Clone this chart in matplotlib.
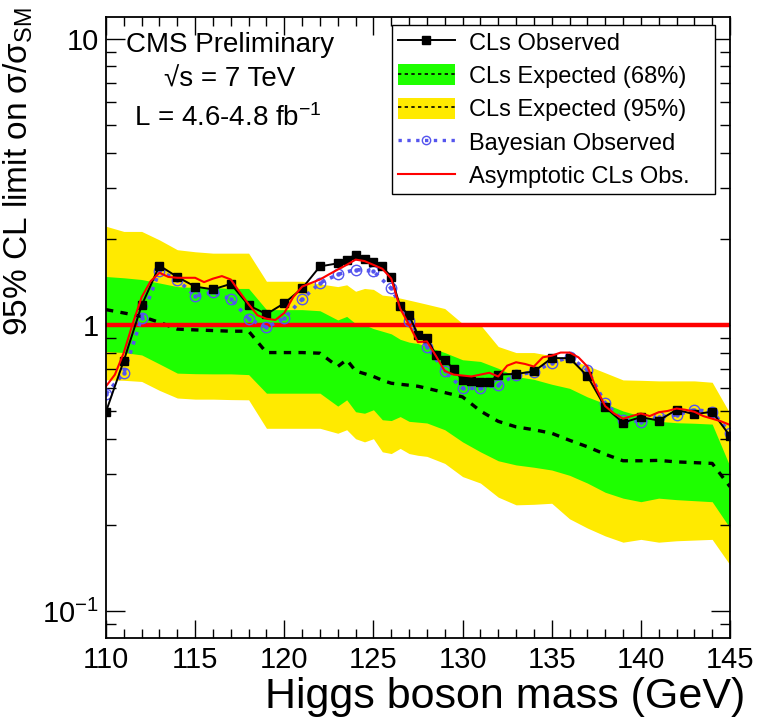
import matplotlib.pyplot as plt
from matplotlib.lines import Line2D
from matplotlib.patches import Patch
from matplotlib.ticker import FixedLocator, LogLocator, NullFormatter, MultipleLocator

plt.rcParams['font.family'] = ['Liberation Sans', 'DejaVu Sans']
plt.rcParams['mathtext.fontset'] = 'custom'
plt.rcParams['mathtext.rm'] = 'Liberation Sans'
plt.rcParams['mathtext.it'] = 'Liberation Sans:italic'
plt.rcParams['mathtext.sf'] = 'Liberation Sans'

# expected limit bands (median, 68%, 95%)
band_mass = [110, 111, 112, 113, 114, 115, 116, 117, 118, 119, 120, 121, 122, 123,
             123.5, 124, 124.5, 125, 125.5, 126, 126.5, 127, 127.5, 128, 129, 130,
             131, 132, 133, 134, 135, 136, 137, 138, 139, 140, 141, 142, 143, 144, 145]
exp_95_hi = [2.21, 2.12, 2.12, 1.98, 1.83, 1.80, 1.78, 1.78, 1.78, 1.42, 1.42, 1.42, 1.39, 1.36,
             1.38, 1.31, 1.34, 1.33, 1.27, 1.26, 1.24, 1.22, 1.20, 1.18, 1.14, 1.01,
             1.00, 0.84, 0.80, 0.80, 0.78, 0.755, 0.72, 0.68, 0.642, 0.64, 0.637, 0.637, 0.637, 0.63, 0.49]
exp_68_hi = [1.475, 1.46, 1.44, 1.40, 1.36, 1.35, 1.35, 1.34, 1.34, 1.13, 1.13, 1.13, 1.12, 1.04,
             1.07, 1.01, 1.00, 0.97, 0.95, 0.93, 0.89, 0.87, 0.86, 0.84, 0.80, 0.755,
             0.745, 0.705, 0.66, 0.645, 0.62, 0.60, 0.56, 0.53, 0.50, 0.48, 0.46, 0.455, 0.453, 0.45, 0.32]
exp_median = [1.13, 1.10, 1.07, 1.02, 0.966, 0.96, 0.955, 0.95, 0.95, 0.80, 0.80, 0.80, 0.796, 0.715,
              0.755, 0.69, 0.675, 0.66, 0.64, 0.625, 0.62, 0.615, 0.61, 0.60, 0.58, 0.56,
              0.50, 0.46, 0.44, 0.43, 0.418, 0.395, 0.375, 0.353, 0.335, 0.335, 0.336, 0.332, 0.33, 0.328, 0.272]
exp_68_lo = [0.807, 0.80, 0.785, 0.73, 0.678, 0.675, 0.674, 0.674, 0.67, 0.577, 0.577, 0.577, 0.577, 0.52,
             0.547, 0.497, 0.491, 0.505, 0.466, 0.463, 0.478, 0.46, 0.457, 0.454, 0.43, 0.39,
             0.36, 0.335, 0.324, 0.318, 0.311, 0.298, 0.28, 0.26, 0.248, 0.241, 0.248, 0.245, 0.243, 0.241, 0.195]
exp_95_lo = [0.642, 0.64, 0.634, 0.59, 0.555, 0.55, 0.55, 0.548, 0.547, 0.435, 0.435, 0.435, 0.435, 0.418,
             0.43, 0.40, 0.39, 0.40, 0.36, 0.355, 0.37, 0.355, 0.35, 0.347, 0.328, 0.295,
             0.28, 0.25, 0.235, 0.236, 0.238, 0.21, 0.195, 0.183, 0.174, 0.178, 0.174, 0.176, 0.177, 0.178, 0.145]

# observed CLs limit
obs_mass = [110, 111, 112, 113, 114, 115, 116, 117, 118, 119, 120, 121, 122, 123, 123.5,
            124, 124.5, 125, 125.5, 126, 126.5, 127, 127.5, 128, 128.5, 129, 129.5, 130,
            130.5, 131, 131.5, 132, 133, 134, 135, 136, 137, 138, 139, 140, 141, 142, 143, 144, 145]
obs_cls = [0.497, 0.75, 1.17, 1.61, 1.47, 1.36, 1.33, 1.39, 1.17, 1.09, 1.19, 1.34, 1.60, 1.64, 1.69,
           1.76, 1.70, 1.66, 1.60, 1.47, 1.16, 1.08, 0.92, 0.90, 0.785, 0.755, 0.70, 0.64,
           0.634, 0.63, 0.63, 0.67, 0.674, 0.687, 0.765, 0.765, 0.663, 0.515, 0.455, 0.476, 0.463, 0.505, 0.487, 0.497, 0.409]

# Bayesian observed limit
bayes_mass = list(range(110, 146))
bayes_obs = [0.574, 0.678, 1.06, 1.54, 1.44, 1.26, 1.30, 1.23, 1.05, 0.98, 1.055, 1.23, 1.40, 1.50,
             1.56, 1.54, 1.34, 1.03, 0.84, 0.687, 0.60, 0.60, 0.617, 0.669, 0.683, 0.738, 0.77,
             0.696, 0.532, 0.466, 0.459, 0.476, 0.484, 0.505, 0.497, 0.42]

# asymptotic CLs observed limit
asym_mass = [110, 110.5, 111, 111.5, 112, 112.5, 113, 113.5, 114, 114.5, 115, 115.5, 116, 116.5,
             117, 117.5, 118, 118.5, 119, 119.5, 120, 120.5, 121, 121.5, 122, 122.5, 123, 123.5,
             124, 124.5, 125, 125.5, 126, 126.5, 127, 127.5, 128, 128.5, 129, 129.5, 130, 130.5,
             131, 131.5, 132, 132.5, 133, 133.5, 134, 134.5, 135, 135.5, 136, 136.5, 137, 137.5,
             138, 138.5, 139, 139.5, 140, 140.5, 141, 141.5, 142, 142.5, 143, 143.5, 144, 144.5, 145]
asym_obs = [0.61, 0.67, 0.80, 1.01, 1.25, 1.42, 1.52, 1.47, 1.46, 1.46, 1.46, 1.41, 1.45, 1.48,
            1.44, 1.30, 1.18, 1.08, 1.05, 1.04, 1.10, 1.25, 1.36, 1.40, 1.44, 1.50, 1.56, 1.62,
            1.69, 1.67, 1.62, 1.57, 1.45, 1.14, 1.00, 0.87, 0.875, 0.78, 0.69, 0.67, 0.665, 0.66,
            0.67, 0.68, 0.66, 0.72, 0.74, 0.73, 0.715, 0.77, 0.78, 0.80, 0.80, 0.77, 0.715, 0.60,
            0.52, 0.49, 0.47, 0.48, 0.49, 0.48, 0.495, 0.50, 0.51, 0.505, 0.497, 0.48, 0.47, 0.46, 0.447]

green = '#1eff00'
yellow = '#ffea00'
blue = '#5555ee'

fig = plt.figure(figsize=(7.66, 7.28), dpi=100)
ax = fig.add_axes([106 / 766, 1 - 638 / 728, 624 / 766, 621 / 728])

ax.fill_between(band_mass, exp_95_lo, exp_95_hi, color=yellow, lw=0)
ax.fill_between(band_mass, exp_68_lo, exp_68_hi, color=green, lw=0)
ax.plot(band_mass, exp_median, color='k', ls=(0, (2.2, 2.2)), lw=2.4)
ax.axhline(1.0, color='#ff0000', lw=3.2)

ax.plot(bayes_mass, bayes_obs, color=blue, ls=':', lw=2.6, marker='o', ms=7.5,
        mfc='none', mec=blue, mew=1.0)
ax.plot(bayes_mass, bayes_obs, ls='none', marker='o', ms=2.2, color=blue)
ax.plot(obs_mass, obs_cls, color='k', lw=1.4, marker='s', ms=6)
ax.plot(asym_mass, asym_obs, color='#ff0000', lw=1.5)

ax.set_xlim(110, 145)
ax.set_yscale('log')
ax.set_ylim(0.0805, 11.9)

ax.xaxis.set_major_locator(MultipleLocator(5))
ax.xaxis.set_minor_locator(MultipleLocator(1))
ax.yaxis.set_major_locator(FixedLocator([0.1, 1, 10]))
ax.yaxis.set_minor_locator(LogLocator(base=10, subs=range(2, 10)))
ax.yaxis.set_minor_formatter(NullFormatter())
ax.set_yticklabels(['$10^{-1}$', '1', '10'])

ax.tick_params(which='both', direction='in', top=True, right=True, labelsize=21, width=1.0)
ax.tick_params(axis='x', which='major', length=13, pad=6)
ax.tick_params(axis='x', which='minor', length=6.5)
ax.tick_params(axis='y', which='major', length=14, pad=5)
ax.tick_params(axis='y', which='minor', length=7)
for sp in ax.spines.values():
    sp.set_linewidth(1.3)

fig.text(745 / 766, 1 - 697 / 728, 'Higgs boson mass (GeV)', fontsize=31,
         ha='right', va='center')
fig.text(18 / 766, 1 - 7 / 728, r'95% CL limit on $\mathregular{\sigma/\sigma_{SM}}$',
         fontsize=24, rotation=90, ha='center', va='top')

ax.text(126 / 766, 1 - 45 / 728, 'CMS Preliminary', transform=fig.transFigure,
        fontsize=20, ha='left', va='center')
ax.text(230 / 766, 1 - 80 / 728, '\u221as = 7 TeV', transform=fig.transFigure,
        fontsize=20, ha='center', va='center')
ax.text(228 / 766, 1 - 118 / 728, 'L = 4.6-4.8 fb$^{-1}$', transform=fig.transFigure,
        fontsize=20, ha='center', va='center')

handles = [
    Line2D([], [], color='k', lw=1.4, marker='s', ms=6),
    (Patch(facecolor=green, edgecolor='none'), Line2D([], [], color='k', ls=(0, (2, 2)), lw=1.2)),
    (Patch(facecolor=yellow, edgecolor='none'), Line2D([], [], color='k', ls=(0, (2, 2)), lw=1.2)),
    Line2D([], [], color=blue, ls=':', lw=2.4, marker='o', ms=6, mfc='none', mec=blue),
    Line2D([], [], color='#ff0000', lw=1.5),
]
labels = ['CLs Observed', 'CLs Expected (68%)', 'CLs Expected (95%)',
          'Bayesian Observed', 'Asymptotic CLs Obs.']
leg = ax.legend(handles, labels, loc='upper left', mode='expand',
                bbox_to_anchor=(392 / 766, 1 - 192 / 728, 323 / 766, 167 / 728),
                bbox_transform=fig.transFigure, borderaxespad=0, fontsize=17,
                fancybox=False, framealpha=1, edgecolor='k', handlelength=2.4,
                handleheight=1.0, labelspacing=0.41, borderpad=0.25, handletextpad=0.6)
leg.get_frame().set_linewidth(1.0)

fig.savefig('out.png', dpi=100)
